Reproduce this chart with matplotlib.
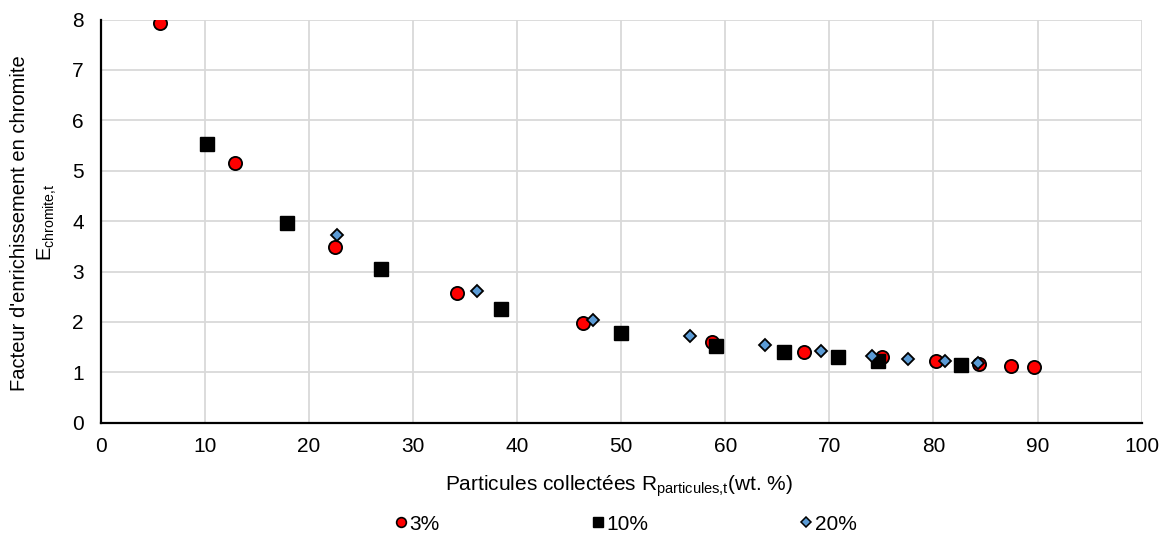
import matplotlib
matplotlib.use("Agg")
import matplotlib.pyplot as plt
from matplotlib.lines import Line2D

plt.rcParams['font.family'] = ['Liberation Sans', 'DejaVu Sans']
plt.rcParams['mathtext.fontset'] = 'custom'
plt.rcParams['mathtext.rm'] = 'Liberation Sans'
plt.rcParams['mathtext.it'] = 'Liberation Sans:italic'

# Data
x_3 = [5.7, 12.9, 22.5, 34.2, 46.3, 58.7, 67.6, 75.1, 80.2, 84.4, 87.4, 89.7]
y_3 = [7.93, 5.15, 3.48, 2.57, 1.98, 1.61, 1.41, 1.30, 1.22, 1.16, 1.13, 1.11]
x_10 = [10.2, 17.9, 26.9, 38.5, 50.0, 59.1, 65.6, 70.8, 74.7, 82.6]
y_10 = [5.53, 3.96, 3.04, 2.26, 1.77, 1.53, 1.40, 1.31, 1.23, 1.14]
x_20 = [22.7, 36.2, 47.3, 56.6, 63.8, 69.2, 74.1, 77.6, 81.1, 84.3]
y_20 = [3.72, 2.61, 2.04, 1.72, 1.54, 1.42, 1.33, 1.26, 1.22, 1.18]
labels = ['3%', '10%', '20%']
x_ticks = list(range(0, 101, 10))
y_ticks = list(range(0, 9))

FS = 15
W, H = 1171, 539
fig = plt.figure(figsize=(W/100, H/100), dpi=100)
ax = fig.add_axes([100.5/W, (H-422.7)/H, (1141.7-100.5)/W, (422.7-19.5)/H])

ax.plot(x_3, y_3, 'o', ms=9.5, mfc='#ff0000', mec='black', mew=1.3, zorder=3)
ax.plot(x_10, y_10, 's', ms=10.3, mfc='black', mec='black', mew=1.0, zorder=3)
ax.plot(x_20, y_20, 'D', ms=6.4, mfc='#5b9bd5', mec='black', mew=1.3, zorder=4)

ax.set_xlim(0, 100)
ax.set_ylim(0, 8)
ax.set_xticks(x_ticks)
ax.set_yticks(y_ticks)
ax.grid(True, color='#d9d9d9', linewidth=1.3)
ax.set_axisbelow(True)
for s in ['top', 'right']:
    ax.spines[s].set_visible(False)
for s in ['left', 'bottom']:
    ax.spines[s].set_linewidth(1.6)
    ax.spines[s].set_color('black')
ax.tick_params(length=0, labelsize=FS, colors='black')
ax.tick_params(axis='x', pad=10)
ax.tick_params(axis='y', pad=12)

fig.text(619/W, 1-491/H, r'Particules collectées R$_{\mathregular{particules{,}t}}$(wt. %)',
         ha='center', va='baseline', fontsize=FS)
fig.text(20/W, 1-223/H, "Facteur d'enrichissement en chromite", rotation=90,
         ha='center', va='center', fontsize=14.5)
fig.text(47/W, 1-222/H, r'E$_{\mathregular{chromite{,}t}}$', rotation=90,
         ha='center', va='center', fontsize=14.5)

handles = [
    Line2D([], [], ls='', marker='o', ms=7, mfc='#ff0000', mec='black', mew=1.2),
    Line2D([], [], ls='', marker='s', ms=7.5, mfc='black', mec='black'),
    Line2D([], [], ls='', marker='D', ms=5, mfc='#5b9bd5', mec='black', mew=1.1),
]
fig.legend(handles, labels, loc='center', bbox_to_anchor=(626/W, 1-524/H), ncol=3,
           frameon=False, fontsize=FS, handlelength=0.5, handletextpad=0.15,
           columnspacing=7.35, borderpad=0.2)

fig.savefig('out.png', dpi=100)
